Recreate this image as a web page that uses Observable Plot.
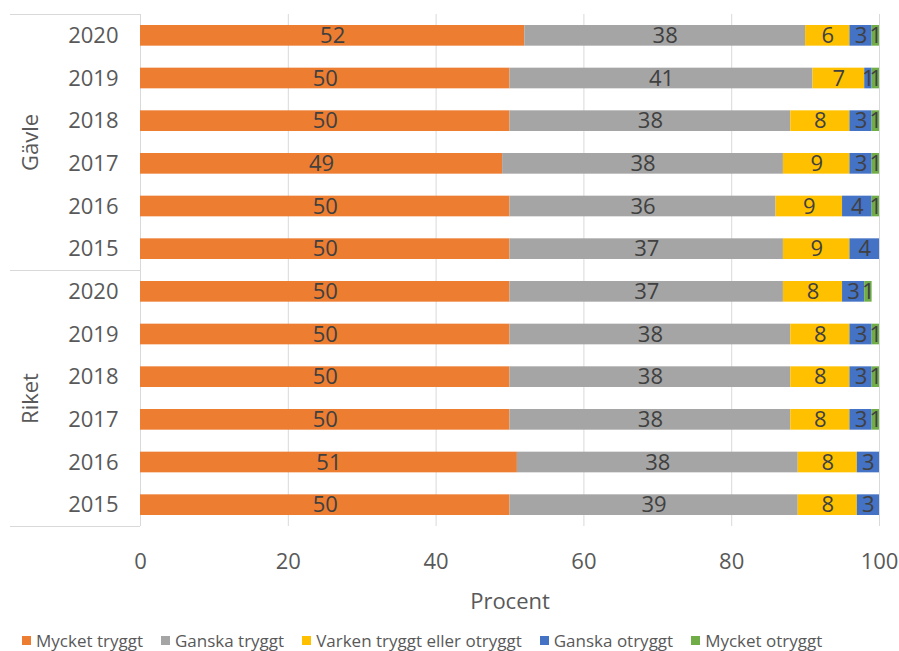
<!DOCTYPE html>
<html><head><meta charset="utf-8">
<script src="https://cdn.jsdelivr.net/npm/d3@7"></script>
<script src="https://cdn.jsdelivr.net/npm/@observablehq/plot@0.6"></script>
<style>
body{margin:0;background:#fff;font-family:"Open Sans",sans-serif;}
#chart svg{display:block;}
#legend{display:flex;align-items:center;padding-left:22px;margin-top:9px;font-size:17px;color:#595959;white-space:nowrap;}
#legend .item{display:flex;align-items:center;margin-right:18px;}
#legend .sw{width:9px;height:9px;margin-right:5px;}
</style></head><body><div id="chart"></div><div id="legend"></div>
<script>
const groups = ["Gävle", "Riket"];
const years = ["2020", "2019", "2018", "2017", "2016", "2015"];
const categories = ["Mycket tryggt", "Ganska tryggt", "Varken tryggt eller otryggt", "Ganska otryggt", "Mycket otryggt"];
const colors = ["#ED7D31", "#A5A5A5", "#FFC000", "#4472C4", "#70AD47"];
const gavleValues = [[52,38,6,3,1],[50,41,7,1,1],[50,38,8,3,1],[49,38,9,3,1],[50,36,9,4,1],[50,37,9,4,0]];
const riketValues = [[50,37,8,3,1],[50,38,8,3,1],[50,38,8,3,1],[50,38,8,3,1],[51,38,8,3,0],[50,39,8,3,0]];
const xTicks = [0, 20, 40, 60, 80, 100];

const data = [];
[[groups[0], gavleValues], [groups[1], riketValues]].forEach(([g, vals]) => {
  vals.forEach((row, i) => row.forEach((v, j) => data.push({group: g, year: years[i], category: categories[j], value: v})));
});

const H = 620, MT = 14, MB = 94;
const step = (H - MT - MB) / 12;
const grid = "#d9d9d9";

const plot = Plot.plot({
  width: 899, height: H,
  marginLeft: 140, marginRight: 20, marginTop: MT, marginBottom: MB,
  style: {fontFamily: "'Open Sans', sans-serif", fontSize: "22px", color: "#595959", background: "white"},
  x: {domain: [0, 100], ticks: xTicks, tickSize: 0, tickPadding: 27, label: null},
  y: {domain: years, paddingInner: 0, paddingOuter: 0, round: false, tickSize: 0, tickPadding: 22, label: null},
  fy: {domain: groups, paddingInner: 0, paddingOuter: 0, round: false, axis: null, label: null},
  color: {domain: categories, range: colors},
  marks: [
    Plot.ruleX(xTicks, {stroke: grid, strokeWidth: 1}),
    Plot.ruleY(groups, {fy: d => d, y: () => years[0], x1: () => 0, x2: () => 0, insetLeft: -130, dy: -step / 2, stroke: grid}),
    Plot.ruleY([groups[1]], {fy: d => d, y: () => years[5], x1: () => 0, x2: () => 0, insetLeft: -130, dy: step / 2, stroke: grid}),
    Plot.barX(data, Plot.stackX({x: "value", y: "year", fy: "group", fill: "category", order: categories, insetTop: 11, insetBottom: 11})),
    Plot.text(data.filter(d => d.value > 0), Plot.stackX({x: "value", y: "year", fy: "group", z: "category", order: categories, text: d => String(d.value), fill: "#404040"})),
    Plot.text(groups, {fy: d => d, text: d => d, frameAnchor: "left", textAnchor: "middle", rotate: -90, dx: -110, fill: "#595959"}),
    Plot.text(["Procent"], {fy: () => groups[1], text: d => d, frameAnchor: "bottom", dy: 82, fill: "#595959"})
  ]
});
document.getElementById("chart").appendChild(plot);

const legend = document.getElementById("legend");
categories.forEach((c, i) => {
  const item = document.createElement("div");
  item.className = "item";
  const sw = document.createElement("span");
  sw.className = "sw";
  sw.style.background = colors[i];
  const t = document.createElement("span");
  t.textContent = c;
  item.appendChild(sw); item.appendChild(t);
  legend.appendChild(item);
});
</script>
</body></html>
